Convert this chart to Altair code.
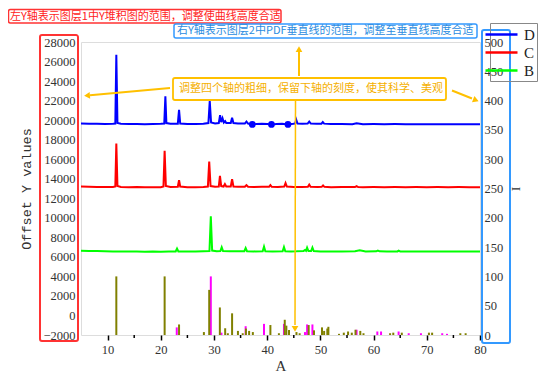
import altair as alt
import pandas as pd

# ---------------- data ----------------
series_names = ["D", "C", "B"]
series_colors = ["#0000FF", "#FF0000", "#00FF00"]

D_x = [5.0, 6.5, 8.0, 9.5, 11.0, 11.45, 11.64, 11.85, 12.5, 14.0, 15.5, 17.0, 18.5, 20.0,
       20.65, 20.86, 21.05, 21.8, 23.2, 23.43, 23.65, 25.0, 26.5, 28.0, 28.95, 29.2, 29.45,
       30.2, 30.9, 31.14, 31.35, 31.6, 31.85, 32.1, 32.3, 33.15, 33.4, 33.65, 34.5, 35.8,
       36.1, 36.4, 37.2, 38.0, 39.0, 40.0, 40.8, 41.8, 42.8, 43.9, 44.9, 45.25, 45.45, 45.7,
       46.6, 47.6, 47.9, 48.2, 49.3, 50.2, 50.45, 50.7, 52.0, 54.0, 56.0, 56.8, 58.0, 60.0,
       62.0, 64.0, 66.0, 68.0, 70.0, 72.0, 74.0, 76.0, 78.0, 80.0]
D_y = [19650, 19620, 19640, 19600, 19620, 19650, 26700, 19700, 19620, 19600, 19610, 19590, 19610, 19620,
       19650, 22450, 19700, 19620, 19640, 21050, 19650, 19600, 19600, 19620, 19700, 21950, 19750,
       19650, 19700, 20500, 19800, 20200, 19750, 19900, 19700, 19700, 20250, 19700, 19650, 19650,
       19850, 19650, 19560, 19600, 19620, 19600, 19560, 19600, 19620, 19560, 19620, 19650, 20050, 19650,
       19620, 19650, 19850, 19650, 19620, 19640, 19800, 19640, 19600, 19600, 19590, 19680, 19590, 19600,
       19590, 19600, 19590, 19580, 19590, 19580, 19590, 19580, 19590, 19580]

C_x = [5.0, 6.5, 8.0, 9.5, 11.0, 11.45, 11.64, 11.85, 12.5, 14.0, 15.5, 17.0, 18.5, 20.0,
       20.5, 20.72, 20.95, 21.8, 23.2, 23.43, 23.65, 25.0, 26.5, 28.0, 28.85, 29.1, 29.35,
       30.2, 30.9, 31.12, 31.35, 31.8, 32.05, 32.3, 33.15, 33.4, 33.65, 34.5, 35.8, 36.1,
       36.4, 37.5, 39.0, 40.35, 40.6, 40.85, 42.0, 43.2, 43.45, 43.7, 45.0, 46.5, 47.65,
       47.9, 48.15, 49.5, 50.25, 50.5, 50.75, 52.0, 54.0, 56.5, 56.8, 57.1, 58.0, 60.0,
       62.0, 64.0, 66.0, 68.0, 70.0, 72.0, 74.0, 76.0, 78.0, 80.0]
C_y = [13200, 13180, 13150, 13160, 13150, 13200, 17600, 13250, 13150, 13130, 13150, 13120, 13140, 13130,
       13200, 16850, 13250, 13150, 13180, 13850, 13200, 13130, 13120, 13150, 13200, 15750, 13250,
       13170, 13200, 14300, 13250, 13200, 13450, 13200, 13200, 13950, 13200, 13170, 13180, 13350,
       13180, 13150, 13170, 13170, 13350, 13170, 13150, 13200, 13550, 13200, 13150, 13150, 13180,
       13400, 13180, 13150, 13170, 13320, 13170, 13140, 13150, 13150, 13250, 13150, 13140, 13150,
       13140, 13150, 13140, 13150, 13140, 13150, 13140, 13150, 13140, 13140]

B_x = [5.0, 6.5, 8.0, 9.5, 11.0, 12.5, 14.0, 15.5, 17.0, 18.5, 20.0, 21.5, 22.8, 23.05, 23.3,
       25.0, 26.5, 28.0, 29.15, 29.4, 29.65, 30.5, 31.2, 31.45, 31.7, 33.0, 34.5, 35.7, 35.95,
       36.2, 37.5, 39.15, 39.4, 39.65, 41.0, 42.9, 43.15, 43.4, 44.5, 45.5, 46.8, 47.1, 47.3,
       47.5, 47.75, 48.25, 48.5, 48.75, 50.0, 52.0, 54.0, 56.5, 57.4, 58.5, 60.5, 60.8, 61.1,
       62.5, 64.5, 64.7, 65.0, 66.0, 68.0, 70.0, 72.0, 74.0, 76.0, 78.0, 80.0]
B_y = [6620, 6600, 6590, 6570, 6560, 6550, 6540, 6540, 6530, 6540, 6530, 6540, 6550, 6850, 6560,
       6540, 6550, 6580, 6600, 10150, 6650, 6580, 6600, 6980, 6600, 6580, 6570, 6580, 6900,
       6580, 6560, 6580, 7050, 6580, 6560, 6580, 7000, 6580, 6560, 6570, 6600, 6700, 6620,
       6950, 6600, 6600, 6950, 6600, 6560, 6550, 6550, 6580, 6680, 6560, 6570, 6650, 6570,
       6550, 6560, 6640, 6560, 6550, 6550, 6550, 6550, 6550, 6550, 6550, 6550]

# blue markers sitting on curve D
dot_x = [37.2, 40.8, 43.9]
dot_y = [19560, 19560, 19560]

# PDF reference lines (right axis, 0-500)
olive_x = [11.64, 20.72, 23.43, 28.1, 29.1, 31.1, 32.1, 32.6, 33.4, 34.5, 35.4, 36.0, 36.6, 37.3,
           40.6, 42.2, 43.3, 43.6, 44.1, 45.5, 46.1, 47.8, 48.8, 50.3, 50.7, 51.3, 51.5, 53.5,
           54.4, 55.2, 55.9, 56.6, 57.5, 58.1, 63.1, 63.7, 65.3, 70.4, 71.0, 76.3, 77.3]
olive_h = [100, 100, 18, 5, 77, 47, 11.5, 3, 37, 7, 3, 11, 7, 5,
           17, 3, 26, 16, 8.5, 5, 3, 17, 8, 13, 7, 11, 14, 2,
           4, 6, 4, 9, 7, 3, 3, 4, 4, 4, 4, 3, 3]
magenta_x = [23.0, 29.4, 31.4, 35.95, 39.4, 43.15, 47.1, 47.5, 48.5, 56.8, 60.7, 61.4, 64.7,
             66.6, 68.9, 72.9, 73.8]
magenta_h = [13, 100, 4, 15, 19, 19, 5, 18, 18, 9, 6, 6, 6, 3, 3, 3, 2]

minor_ticks = [15, 25, 35, 45, 55, 65, 75]

left_ticks = list(range(-2000, 28001, 2000))
right_ticks = list(range(0, 501, 50))
bottom_ticks = list(range(10, 81, 10))

note_left = "左Y轴表示图层1中Y堆积图的范围，调整使曲线高度合适"
note_right = "右Y轴表示图层2中PDF垂直线的范围，调整至垂直线高度合适"
note_axes = "调整四个轴的粗细，保留下轴的刻度，使其科学、美观"

# ---------------- tables ----------------
curves = pd.DataFrame({
    "series": ["D"] * len(D_x) + ["C"] * len(C_x) + ["B"] * len(B_x),
    "x": D_x + C_x + B_x,
    "y": D_y + C_y + B_y,
})
dots = pd.DataFrame({"x": dot_x, "y": dot_y})
olive = pd.DataFrame({"x": olive_x, "h": olive_h})
magenta = pd.DataFrame({"x": magenta_x, "h": magenta_h})
minors = pd.DataFrame({"x": minor_ticks})
dummy = alt.InlineData(values=[{"k": 0}])

# ---------------- layout constants ----------------
OX, OY = 81, 42          # plot-area origin inside the page
W, H = 399, 293
SERIF = "Liberation Serif"
CJK = "Noto Sans CJK SC"
ORANGE = "#FFC000"

xscale = alt.Scale(domain=[5, 80], nice=False, zero=False)
yleft = alt.Scale(domain=[-2000, 28000], nice=False, zero=False)
yright = alt.Scale(domain=[0, 500], nice=False, zero=False)

x_axis = alt.Axis(values=bottom_ticks, format="d", title="A", grid=False, domain=False,
                  ticks=True, tickSize=5, tickWidth=1.5, tickColor="black",
                  labelFont=SERIF, labelFontSize=12.5, labelColor="#333333", labelPadding=3,
                  labelFlush=False, titleFont=SERIF, titleFontSize=15, titleFontWeight="normal",
                  titleColor="#333333", titlePadding=3)

lines = alt.Chart(curves).mark_line(strokeWidth=2).encode(
    x=alt.X("x:Q", scale=xscale, axis=x_axis),
    y=alt.Y("y:Q", scale=yleft,
            axis=alt.Axis(orient="left", values=left_ticks, format="d", grid=False, domain=False,
                          ticks=False, tickSize=0, labelFont=SERIF, labelFontSize=12.5,
                          labelColor="#333333", labelPadding=6, title="Offset Y values",
                          titleFont="Liberation Mono", titleFontSize=13.5,
                          titleFontWeight="normal", titleColor="#333333", titlePadding=9)),
    color=alt.Color("series:N", scale=alt.Scale(domain=series_names, range=series_colors),
                    legend=alt.Legend(title=None, orient="none", legendX=409, legendY=-19,
                                      symbolType="M-2,0L2,0", symbolSize=256,
                                      symbolStrokeWidth=2.5,
                                      labelFont=SERIF, labelFontSize=15, labelColor="#222222",
                                      labelOffset=13, strokeColor="#888888", padding=2,
                                      rowPadding=-2)),
)

dot_layer = alt.Chart(dots).mark_circle(size=45, color="#0000FF", opacity=1).encode(
    x=alt.X("x:Q", scale=xscale),
    y=alt.Y("y:Q", scale=yleft, axis=None),
)

olive_layer = alt.Chart(olive).mark_rule(strokeWidth=2, color="#808000").encode(
    x=alt.X("x:Q", scale=xscale),
    y=alt.Y("h:Q", scale=yright,
            axis=alt.Axis(orient="right", values=right_ticks, format="d", grid=False, domain=False,
                          ticks=False, tickSize=0, labelFont=SERIF, labelFontSize=12.5,
                          labelColor="#333333", labelPadding=4, title="I",
                          titleFont=SERIF, titleFontSize=13, titleFontWeight="normal",
                          titleColor="#333333", titlePadding=6)),
    y2=alt.datum(0),
)

magenta_layer = alt.Chart(magenta).mark_rule(strokeWidth=2, color="#FF00FF").encode(
    x=alt.X("x:Q", scale=xscale),
    y=alt.Y("h:Q", scale=yright, axis=None),
    y2=alt.datum(0),
)

minor_layer = alt.Chart(minors).mark_rule(strokeWidth=1.5, color="black").encode(
    x=alt.X("x:Q", scale=xscale),
    y=alt.value(H),
    y2=alt.value(H + 3),
)


def box(x1, y1, x2, y2, color, width=1.5, fill="transparent", radius=2):
    return alt.Chart(dummy).mark_rect(fill=fill, stroke=color, strokeWidth=width,
                                      cornerRadius=radius).encode(
        x=alt.value(x1 - OX), x2=alt.value(x2 - OX),
        y=alt.value(y1 - OY), y2=alt.value(y2 - OY))


def label(x, y, txt, color, size=11):
    return alt.Chart(dummy).mark_text(align="left", baseline="middle", font=CJK,
                                      fontSize=size, color=color, text=txt).encode(
        x=alt.value(x - OX), y=alt.value(y - OY))


def seg(x1, y1, x2, y2, width=2, color=ORANGE):
    return alt.Chart(dummy).mark_rule(stroke=color, strokeWidth=width).encode(
        x=alt.value(x1 - OX), x2=alt.value(x2 - OX),
        y=alt.value(y1 - OY), y2=alt.value(y2 - OY))


def head(x, y, ang, size=45, color=ORANGE):
    return alt.Chart(dummy).mark_point(shape="triangle", filled=True, size=size, angle=ang,
                                       color=color, opacity=1).encode(
        x=alt.value(x - OX), y=alt.value(y - OY))


annotations = [
    box(40, 35, 78, 341, "#FF3333", width=2),
    box(482, 30, 510, 343, "#3399FF", width=2),
    box(8.5, 9.5, 281, 23, "#FF3333", width=1.5, fill="white"),
    label(10, 16.6, note_left, "#FF2222"),
    box(174, 24, 477, 38, "#3399FF", width=1.5, fill="white"),
    label(177, 31.2, note_right, "#2B8CE0"),
    box(173, 78, 446, 100, ORANGE, width=1.8, fill="white"),
    label(179, 89.3, note_axes, "#F5B000"),
    seg(170, 88, 90, 95.3),
    head(88, 95.5, 265),
    seg(452, 90.5, 472, 98.5),
    head(475, 99.8, 112),
    seg(299, 76, 299, 52),
    head(299, 50, 0),
    seg(295.5, 100, 295, 325, width=1.5),
    head(295, 328, 180),
]

chart = alt.layer(
    magenta_layer, olive_layer, minor_layer, lines, dot_layer, *annotations
).resolve_scale(y="independent").properties(
    width=W, height=H,
    padding={"left": OX - 8, "top": OY - 8, "right": 546 - OX - W, "bottom": 380 - OY - H},
    autosize=alt.AutoSizeParams(type="none"),
).configure_view(stroke="black", strokeWidth=2).configure(background="white")

chart.save("out.html", embed_options={"renderer": "svg", "actions": False})
